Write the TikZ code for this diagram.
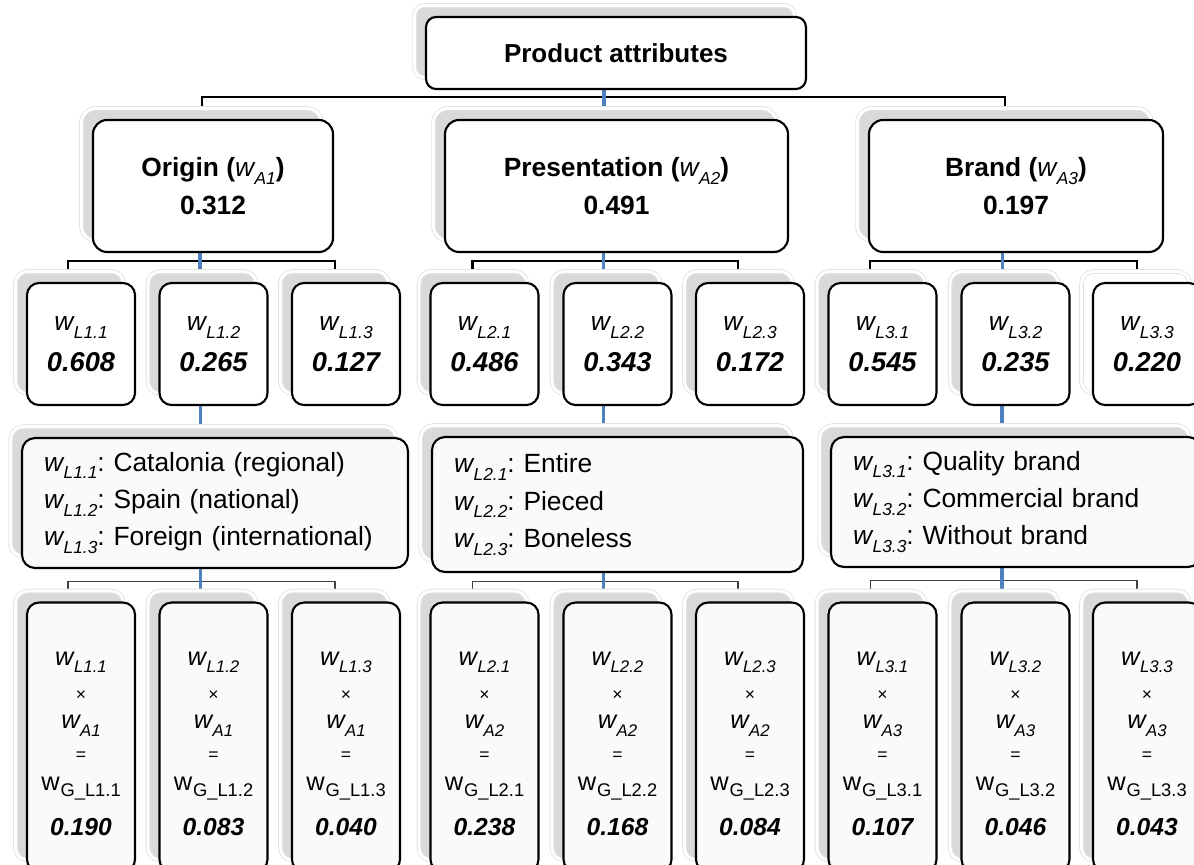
\documentclass[tikz,border=0pt]{standalone}
\usepackage{graphicx}
\usepackage{fontspec}
\setmainfont{Liberation Sans}
\usetikzlibrary{shadows}
\pgfdeclarelayer{back}
\pgfsetlayers{back,main}

\definecolor{shadegrey}{RGB}{217,217,217}
\definecolor{shadeedge}{RGB}{226,226,226}
\definecolor{spineblue}{RGB}{79,129,189}
\definecolor{paperfill}{RGB}{250,250,250}

\newcommand{\wsub}[1]{{\mdseries\itshape w\kern0.3pt\raisebox{-0.3em}{\scalebox{0.66}{#1}}}}
\newcommand{\wglob}[1]{{\mdseries\upshape w\kern0.5pt\raisebox{-0.25em}{\scalebox{0.72}{G\_L#1}}}}
\newcommand{\opsym}[1]{{\fontsize{10}{12}\selectfont #1}}

\begin{document}
\begin{tikzpicture}[x=0.02cm, y=-0.02cm,
    backshade/.style={general shadow={shadow xshift=-0.23cm, shadow yshift=0.23cm,
        fill=shadegrey, draw=shadeedge, line width=0.5pt, double=white, double distance=1.6pt}},
    paleshade/.style={general shadow={shadow xshift=-0.23cm, shadow yshift=0.23cm,
        fill=white, draw=shadeedge, line width=0.5pt, double=white, double distance=1.6pt}},
    card/.style={draw=black, line width=1.2pt, fill=white, inner sep=0pt, align=center},
    headbox/.style={card, backshade, rounded corners=0.2cm, minimum width=7.6cm, minimum height=1.44cm,
        font=\fontsize{14.8}{18}\selectfont\bfseries},
    attrbox/.style={card, backshade, rounded corners=0.28cm, minimum height=2.64cm,
        font=\fontsize{15}{21.6}\selectfont\bfseries},
    levelbox/.style={card, #1, rounded corners=0.24cm, minimum width=2.16cm, minimum height=2.44cm,
        font=\fontsize{15}{20}\selectfont},
    levelbox/.default=backshade,
    listbox/.style={card, backshade, fill=paperfill, rounded corners=0.26cm, align=left,
        inner xsep=0.44cm, minimum height=2.6cm, font=\fontsize{15}{21.3}\selectfont\frenchspacing},
    calcbox/.style={card, backshade, fill=paperfill, rounded corners=0.24cm, minimum width=2.16cm,
        minimum height=5.38cm, font=\fontsize{14.5}{17}\selectfont},
    bar/.style={draw=black, line width=1.2pt},
    thinbar/.style={draw=black!75, line width=0.7pt},
    spine/.style={draw=spineblue, line width=2.2pt}]

    \useasboundingbox (0,0) rectangle (1194,865);
    \clip (0,0) rectangle (1194,865);

    % Root
    \node[headbox] (top) at (616,53) {Product attributes};

    % Attributes
    \node[attrbox, minimum width=4.8cm] (org) at (213,186) {Origin (\wsub{A1})\\0.312};
    \node[attrbox, minimum width=6.86cm] (pre) at (616.5,186) {Presentation (\wsub{A2})\\0.491};
    \node[attrbox, minimum width=5.88cm] (brd) at (1016,186) {Brand (\wsub{A3})\\0.197};

    % Local weights
    \node[levelbox] (o1) at (81,344) {\wsub{L1.1}\\[3pt]{\fontsize{15.5}{20}\selectfont\bfseries\itshape 0.608}};
    \node[levelbox] (o2) at (213.5,344) {\wsub{L1.2}\\[3pt]{\fontsize{15.5}{20}\selectfont\bfseries\itshape 0.265}};
    \node[levelbox] (o3) at (346,344) {\wsub{L1.3}\\[3pt]{\fontsize{15.5}{20}\selectfont\bfseries\itshape 0.127}};
    \node[levelbox] (p1) at (484.5,344) {\wsub{L2.1}\\[3pt]{\fontsize{15.5}{20}\selectfont\bfseries\itshape 0.486}};
    \node[levelbox] (p2) at (617.5,344) {\wsub{L2.2}\\[3pt]{\fontsize{15.5}{20}\selectfont\bfseries\itshape 0.343}};
    \node[levelbox] (p3) at (750,344) {\wsub{L2.3}\\[3pt]{\fontsize{15.5}{20}\selectfont\bfseries\itshape 0.172}};
    \node[levelbox] (b1) at (882.5,344) {\wsub{L3.1}\\[3pt]{\fontsize{15.5}{20}\selectfont\bfseries\itshape 0.545}};
    \node[levelbox] (b2) at (1015.5,344) {\wsub{L3.2}\\[3pt]{\fontsize{15.5}{20}\selectfont\bfseries\itshape 0.235}};
    \node[levelbox=paleshade] (b3) at (1147,344) {\wsub{L3.3}\\[3pt]{\fontsize{15.5}{20}\selectfont\bfseries\itshape 0.220}};

    % Level descriptions
    \node[listbox, text width=6.84cm] (otx) at (215,503)
        {\wsub{L1.1}: Catalonia (regional)\\\wsub{L1.2}: Spain (national)\\\wsub{L1.3}: Foreign (international)};
    \node[listbox, text width=6.54cm, minimum height=2.7cm] (ptx) at (617.5,504.5)
        {\wsub{L2.1}: Entire\\\wsub{L2.2}: Pieced\\\wsub{L2.3}: Boneless};
    \node[listbox, text width=6.52cm] (btx) at (1016,502)
        {\wsub{L3.1}: Quality brand\\\wsub{L3.2}: Commercial brand\\\wsub{L3.3}: Without brand};

    % Global weights
    \node[calcbox] (og1) at (81,737) {\rule{0pt}{15.5pt}\wsub{L1.1}\\[3pt]\opsym{×}\\[-1pt]\wsub{A1}\\[1pt]\opsym{=}\\\wglob{1.1}\\[9pt]{\fontsize{14}{17}\selectfont\bfseries\itshape 0.190}};
    \node[calcbox] (og2) at (213.5,737) {\rule{0pt}{15.5pt}\wsub{L1.2}\\[3pt]\opsym{×}\\[-1pt]\wsub{A1}\\[1pt]\opsym{=}\\\wglob{1.2}\\[9pt]{\fontsize{14}{17}\selectfont\bfseries\itshape 0.083}};
    \node[calcbox] (og3) at (346,737) {\rule{0pt}{15.5pt}\wsub{L1.3}\\[3pt]\opsym{×}\\[-1pt]\wsub{A1}\\[1pt]\opsym{=}\\\wglob{1.3}\\[9pt]{\fontsize{14}{17}\selectfont\bfseries\itshape 0.040}};
    \node[calcbox] (pg1) at (484.5,737) {\rule{0pt}{15.5pt}\wsub{L2.1}\\[3pt]\opsym{×}\\[-1pt]\wsub{A2}\\[1pt]\opsym{=}\\\wglob{2.1}\\[9pt]{\fontsize{14}{17}\selectfont\bfseries\itshape 0.238}};
    \node[calcbox] (pg2) at (617.5,737) {\rule{0pt}{15.5pt}\wsub{L2.2}\\[3pt]\opsym{×}\\[-1pt]\wsub{A2}\\[1pt]\opsym{=}\\\wglob{2.2}\\[9pt]{\fontsize{14}{17}\selectfont\bfseries\itshape 0.168}};
    \node[calcbox] (pg3) at (750,737) {\rule{0pt}{15.5pt}\wsub{L2.3}\\[3pt]\opsym{×}\\[-1pt]\wsub{A2}\\[1pt]\opsym{=}\\\wglob{2.3}\\[9pt]{\fontsize{14}{17}\selectfont\bfseries\itshape 0.084}};
    \node[calcbox] (bg1) at (882.5,737) {\rule{0pt}{15.5pt}\wsub{L3.1}\\[3pt]\opsym{×}\\[-1pt]\wsub{A3}\\[1pt]\opsym{=}\\\wglob{3.1}\\[9pt]{\fontsize{14}{17}\selectfont\bfseries\itshape 0.107}};
    \node[calcbox] (bg2) at (1015.5,737) {\rule{0pt}{15.5pt}\wsub{L3.2}\\[3pt]\opsym{×}\\[-1pt]\wsub{A3}\\[1pt]\opsym{=}\\\wglob{3.2}\\[9pt]{\fontsize{14}{17}\selectfont\bfseries\itshape 0.046}};
    \node[calcbox] (bg3) at (1147,737) {\rule{0pt}{15.5pt}\wsub{L3.3}\\[3pt]\opsym{×}\\[-1pt]\wsub{A3}\\[1pt]\opsym{=}\\\wglob{3.3}\\[9pt]{\fontsize{14}{17}\selectfont\bfseries\itshape 0.043}};

    \begin{pgfonlayer}{back}
        % Black brackets
        \draw[bar] ([xshift=-0.22cm]org.north) -- ++(0cm,0.44cm) -| ([xshift=-0.22cm]brd.north);
        \draw[bar] ([xshift=-0.26cm]o1.north) -- ++(0cm,0.42cm) -| ([xshift=-0.22cm]o3.north);
        \draw[bar] ([xshift=-0.24cm]p1.north) -- ++(0cm,0.42cm) -| ([xshift=-0.24cm]p3.north);
        \draw[bar] ([xshift=-0.25cm]b1.north) -- ++(0cm,0.42cm) -| ([xshift=-0.2cm]b3.north);
        \draw[thinbar] ([xshift=-0.26cm]og1.north) -- ++(0cm,0.4cm) -| ([xshift=-0.22cm]og3.north);
        \draw[thinbar] ([xshift=-0.24cm]pg1.north) -- ++(0cm,0.4cm) -| ([xshift=-0.24cm]pg3.north);
        \draw[thinbar] ([xshift=-0.24cm]bg1.north) -- ++(0cm,0.42cm) -| ([xshift=-0.2cm]bg3.north);

        % Blue spine
        \draw[spine] ([xshift=-0.24cm]top.south) -- ([xshift=-0.24cm]top.south |- pre.north);
        \draw[spine] ([xshift=-0.26cm]org.south) -- ([xshift=-0.26cm]org.south |- o2.north);
        \draw[spine] ([xshift=-0.26cm]pre.south) -- ([xshift=-0.26cm]pre.south |- p2.north);
        \draw[spine] ([xshift=-0.27cm]brd.south) -- ([xshift=-0.27cm]brd.south |- b2.north);
        \draw[spine] ([xshift=-0.26cm]o2.south) -- ([xshift=-0.26cm]o2.south |- otx.north);
        \draw[spine] ([xshift=-0.28cm]p2.south) -- ([xshift=-0.28cm]p2.south |- ptx.north);
        \draw[spine] ([xshift=-0.27cm]b2.south) -- ([xshift=-0.27cm]b2.south |- btx.north);
        \draw[spine] ([xshift=-0.26cm]o2.south |- otx.south) -- ([xshift=-0.26cm]o2.south |- og2.north);
        \draw[spine] ([xshift=-0.28cm]p2.south |- ptx.south) -- ([xshift=-0.28cm]p2.south |- pg2.north);
        \draw[spine] ([xshift=-0.27cm]b2.south |- btx.south) -- ([xshift=-0.27cm]b2.south |- bg2.north);
    \end{pgfonlayer}
\end{tikzpicture}
\end{document}
